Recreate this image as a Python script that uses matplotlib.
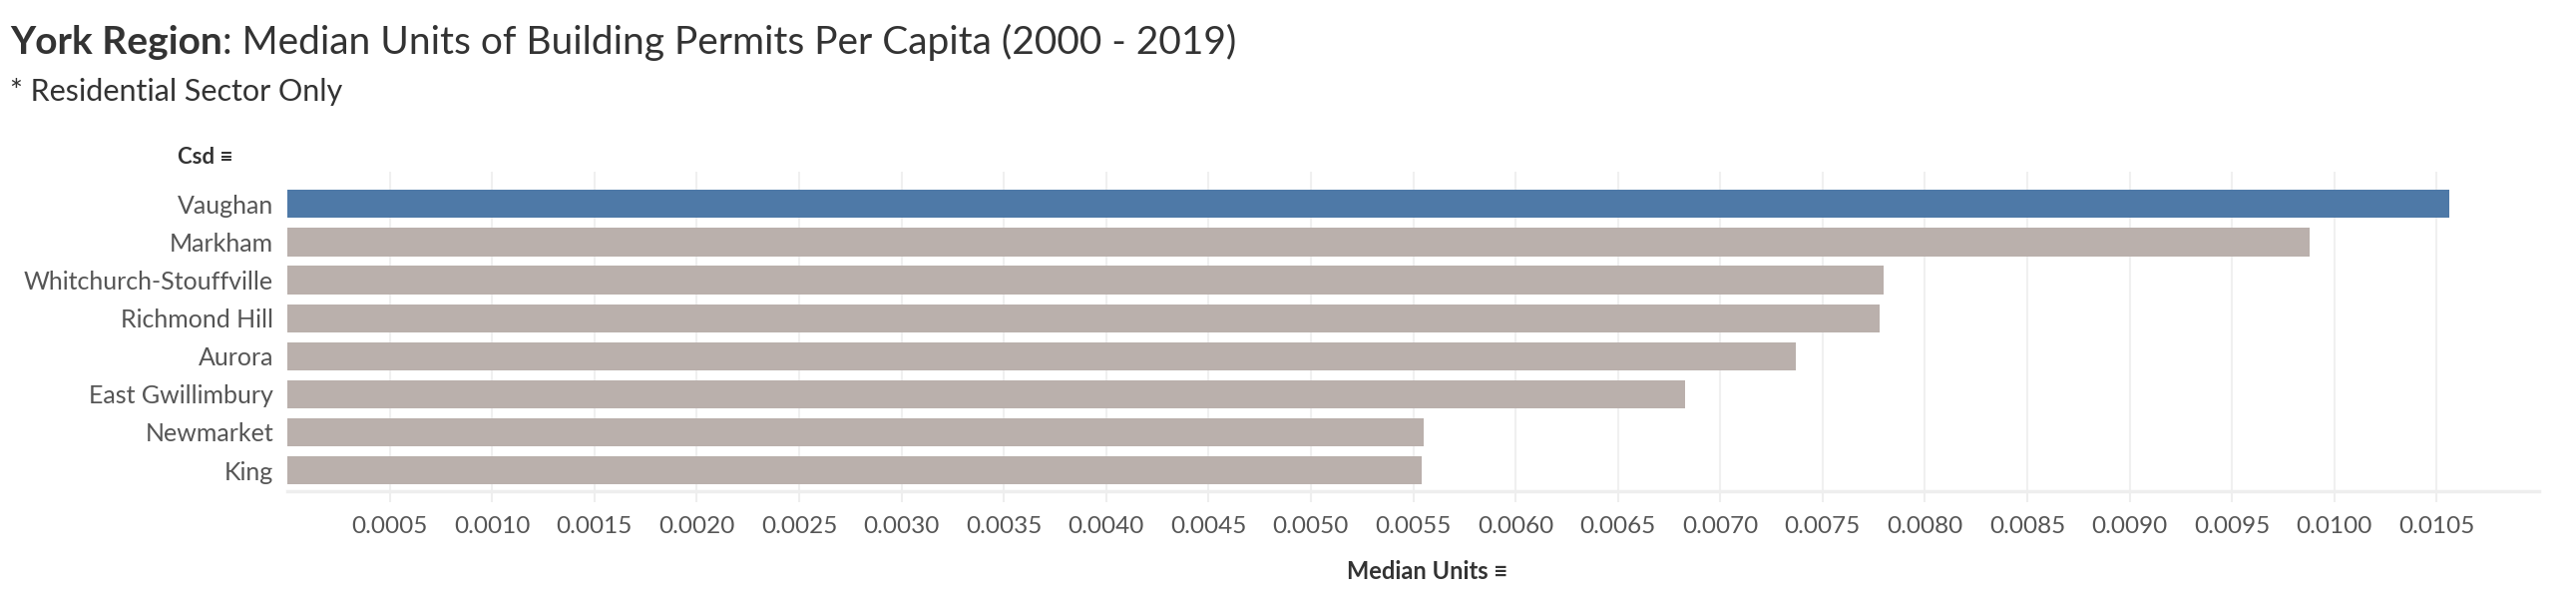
import numpy as np
import matplotlib.pyplot as plt

# data
csd = ["Vaughan", "Markham", "Whitchurch-Stouffville", "Richmond Hill",
       "Aurora", "East Gwillimbury", "Newmarket", "King"]
median_units = [0.01056, 0.00988, 0.00780, 0.00778, 0.00737, 0.00683, 0.00555, 0.00554]
tick_values = [round(0.0005 * i, 4) for i in range(1, 22)]
tick_labels = ["%.4f" % t for t in tick_values]

plt.rcParams['font.family'] = ['Lato', 'DejaVu Sans']

fig = plt.figure(figsize=(25.82, 6.14), dpi=100)
ax = fig.add_axes([288 / 2582, 1 - 492 / 614, (2545 - 288) / 2582, (492 - 172) / 614])

colors = ["#4e79a7"] + ["#bab0ac"] * (len(csd) - 1)
y = np.arange(len(csd))
ax.barh(y, median_units, height=0.74, color=colors, zorder=3)
ax.set_ylim(len(csd) - 0.45, -0.85)
ax.set_xlim(0, 0.011)
ax.set_yticks(y)
ax.set_yticklabels(csd, fontsize=18, color="#555555")
ax.set_xticks(tick_values)
ax.set_xticklabels(tick_labels, fontsize=17.5, color="#555555")
ax.tick_params(axis="y", length=0, pad=10)
ax.tick_params(axis="x", length=8, color="#eeeeee", width=1.5, pad=10)
ax.xaxis.grid(True, color="#f0f0f0", linewidth=1.5, zorder=0)
for side in ["top", "right", "left"]:
    ax.spines[side].set_visible(False)
ax.spines["bottom"].set_color("#eeeeee")
ax.spines["bottom"].set_linewidth(2.5)

# title in two parts: bold region name, then the rest right after it
t1 = fig.text(10 / 2582, 1 - 42 / 614, "York Region", fontsize=28, fontweight="bold",
              color="#333333", va="center")
renderer = fig.canvas.get_renderer()
bb = t1.get_window_extent(renderer=renderer)
fig.text(bb.x1 / 2582, 1 - 42 / 614, ": Median Units of Building Permits Per Capita (2000 - 2019)",
         fontsize=28, color="#333333", va="center")
fig.text(10 / 2582, 1 - 92 / 614, "* Residential Sector Only", fontsize=22,
         color="#333333", va="center")
fig.text(178 / 2582, 1 - 157 / 614, "Csd \u2261", fontsize=16, fontweight="bold",
         color="#333333", va="center")
fig.text(1350 / 2582, 1 - 572 / 614, "Median Units \u2261", fontsize=17, fontweight="bold",
         color="#333333", va="center")

fig.savefig("out.png", dpi=100)
